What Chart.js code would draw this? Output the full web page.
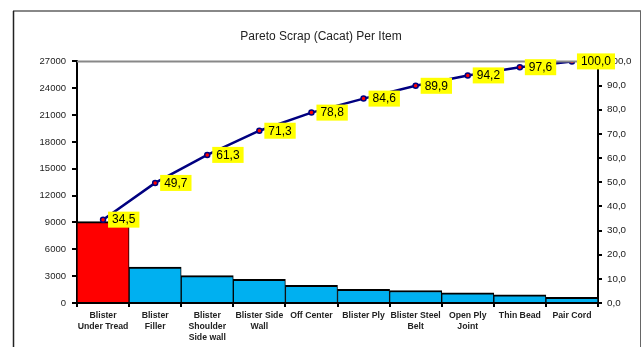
<!DOCTYPE html>
<html>
<head>
<meta charset="utf-8">
<script src="https://cdn.jsdelivr.net/npm/chart.js@4/dist/chart.umd.min.js"></script>
<style>
html,body{margin:0;padding:0;background:#fff;}
#wrap{width:642px;height:347px;position:relative;}
</style>
</head>
<body>
<div id="wrap"><canvas id="c" width="642" height="347"></canvas></div>
<script>
const categories = [
  ["Blister", "Under Tread"],
  ["Blister", "Filler"],
  ["Blister", "Shoulder", "Side wall"],
  ["Blister Side", "Wall"],
  "Off Center",
  "Blister Ply",
  ["Blister Steel", "Belt"],
  ["Open Ply", "Joint"],
  "Thin Bead",
  "Pair Cord"
];
const scrapValues = [9100, 4010, 3060, 2640, 1980, 1530, 1400, 1135, 900, 635];
const cumulativePercent = [34.5, 49.7, 61.3, 71.3, 78.8, 84.6, 89.9, 94.2, 97.6, 100.0];
const leftTicks = [0, 3000, 6000, 9000, 12000, 15000, 18000, 21000, 24000, 27000];
const rightTicks = [0, 10, 20, 30, 40, 50, 60, 70, 80, 90, 100];
const barColors = ["#FF0000", "#00B0F0", "#00B0F0", "#00B0F0", "#00B0F0", "#00B0F0", "#00B0F0", "#00B0F0", "#00B0F0", "#00B0F0"];

const FONT = "'Liberation Sans', Arial, sans-serif";
const fmt = v => v.toFixed(1).replace('.', ',');

const framePlugin = {
  id: 'frame',
  beforeDraw(chart) {
    const ctx = chart.ctx;
    ctx.save();
    ctx.fillStyle = '#fff';
    ctx.fillRect(0, 0, chart.width, chart.height);
    ctx.lineWidth = 2;
    ctx.strokeStyle = '#888';
    ctx.beginPath(); ctx.moveTo(13, 11); ctx.lineTo(641, 11); ctx.stroke();
    ctx.strokeStyle = '#222';
    ctx.lineWidth = 1.5;
    ctx.beginPath(); ctx.moveTo(13.5, 11); ctx.lineTo(13.5, 347); ctx.stroke();
    ctx.strokeStyle = '#666';
    ctx.lineWidth = 1;
    ctx.beginPath(); ctx.moveTo(640.5, 11); ctx.lineTo(640.5, 347); ctx.stroke();
    ctx.restore();
  },
  afterDatasetsDraw(chart) {
    const ctx = chart.ctx;
    const a = chart.chartArea;
    ctx.save();
    ctx.strokeStyle = '#888';
    ctx.lineWidth = 2;
    ctx.beginPath(); ctx.moveTo(a.left, a.top); ctx.lineTo(a.right, a.top); ctx.stroke();
    ctx.restore();
  }
};

const labelPlugin = {
  id: 'pctLabels',
  afterDraw(chart) {
    const meta = chart.getDatasetMeta(0);
    const ctx = chart.ctx;
    ctx.save();
    ctx.font = '12px ' + FONT;
    ctx.textBaseline = 'middle';
    ctx.textAlign = 'left';
    meta.data.forEach((pt, i) => {
      const txt = fmt(cumulativePercent[i]);
      const w = ctx.measureText(txt).width + 8;
      const h = 16;
      const x = pt.x + 5;
      const y = pt.y - h / 2;
      ctx.fillStyle = '#FFFF00';
      ctx.fillRect(x, y, w, h);
      ctx.fillStyle = '#000';
      ctx.fillText(txt, x + 4, pt.y + 0.5);
    });
    ctx.restore();
  }
};

new Chart(document.getElementById('c'), {
  data: {
    labels: categories,
    datasets: [
      {
        type: 'line',
        label: 'Kumulatif %',
        data: cumulativePercent,
        yAxisID: 'yR',
        borderColor: '#000080',
        borderWidth: 2.5,
        pointRadius: 2.5,
        pointBorderWidth: 1.5,
        pointBorderColor: '#000080',
        pointBackgroundColor: '#FF0000',
        tension: 0,
        order: 0
      },
      {
        type: 'bar',
        label: 'Scrap',
        data: scrapValues,
        yAxisID: 'y',
        backgroundColor: barColors,
        borderColor: '#000',
        borderWidth: {top: 2, left: 1, right: 1, bottom: 0},
        borderSkipped: false,
        categoryPercentage: 1,
        barPercentage: 1,
        order: 1
      }
    ]
  },
  options: {
    responsive: false,
    animation: false,
    devicePixelRatio: 1,
    layout: {padding: 0},
    plugins: {
      legend: {display: false},
      tooltip: {enabled: false},
      title: {
        display: true,
        text: 'Pareto Scrap (Cacat) Per Item',
        color: '#222',
        font: {family: FONT, size: 12, weight: 'normal', lineHeight: 1.2},
        padding: {top: 29, bottom: 18}
      }
    },
    scales: {
      x: {
        offset: true,
        grid: {display: true, drawOnChartArea: false, drawTicks: true, tickLength: 4, color: '#000', lineWidth: 2, offset: true},
        border: {display: true, color: '#000', width: 2},
        ticks: {
          color: '#222',
          font: {family: FONT, size: 8.7, weight: 'bold', lineHeight: 1.25},
          padding: 3,
          maxRotation: 0,
          minRotation: 0,
          autoSkip: false
        },
        afterFit(s) { s.height = 44; }
      },
      y: {
        position: 'left',
        min: 0,
        max: 27000,
        afterBuildTicks(s) { s.ticks = leftTicks.map(v => ({value: v})); },
        grid: {display: true, drawOnChartArea: false, drawTicks: true, tickLength: 5, color: '#000', lineWidth: 2},
        border: {display: true, color: '#000', width: 2},
        ticks: {
          color: '#222',
          font: {family: FONT, size: 9.5},
          padding: 6,
          callback: v => String(v)
        },
        afterFit(s) { s.width = 77; }
      },
      yR: {
        position: 'right',
        min: 0,
        max: 100,
        afterBuildTicks(s) { s.ticks = rightTicks.map(v => ({value: v})); },
        grid: {display: true, drawOnChartArea: false, drawTicks: true, tickLength: 4, color: '#000', lineWidth: 2},
        border: {display: true, color: '#000', width: 2},
        ticks: {
          color: '#222',
          font: {family: FONT, size: 9.8},
          padding: 5,
          callback: v => fmt(v)
        },
        afterFit(s) { s.width = 44; }
      }
    }
  },
  plugins: [framePlugin, labelPlugin]
});
</script>
</body>
</html>
